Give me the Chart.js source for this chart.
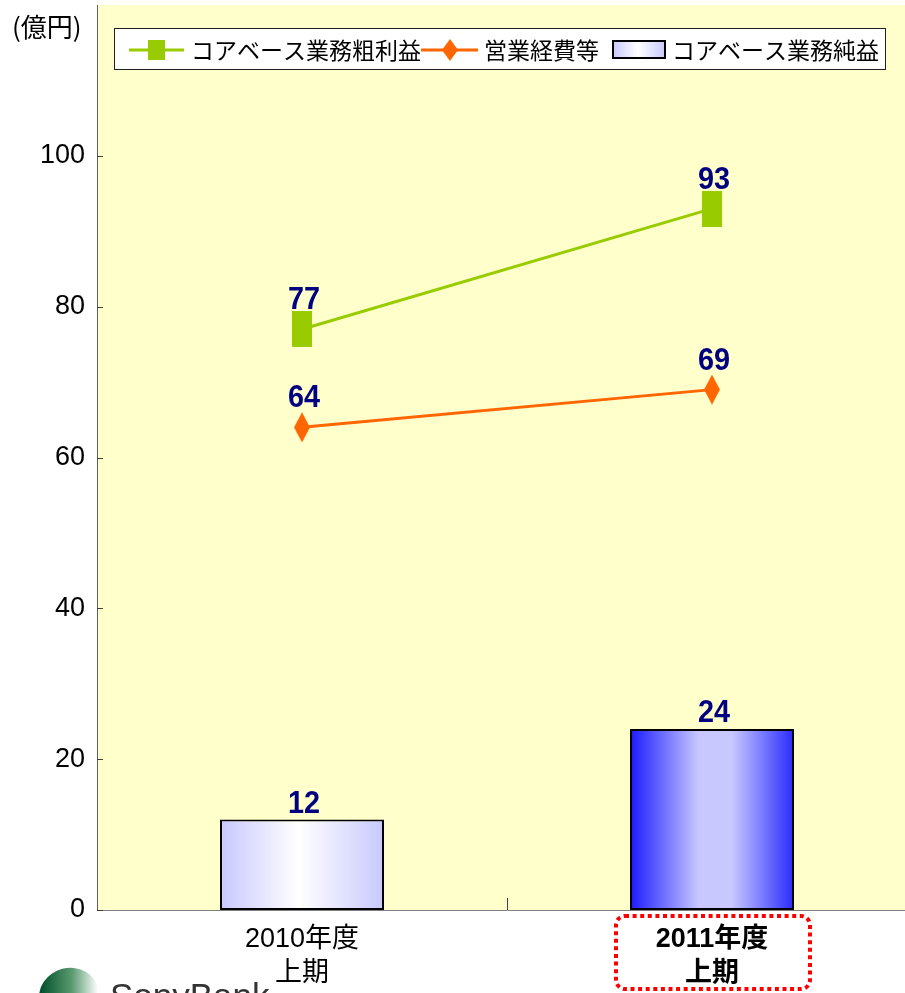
<!DOCTYPE html>
<html><head><meta charset="utf-8">
<script src="https://cdn.jsdelivr.net/npm/chart.js@4"></script>
<style>
html,body{margin:0;padding:0;background:#fff;overflow:hidden;width:905px;height:993px}
#wrap{position:relative;width:920px;height:993px}
canvas{display:block}
</style></head><body>
<div id="wrap"><canvas id="c" width="920" height="993" style="width:920px;height:993px"></canvas></div>
<script>
// ---- data ----
const categories = [['2010年度', '上期'], ['2011年度', '上期']];
const grossProfit = [77, 93];      // コアベース業務粗利益
const expenses = [64, 69];         // 営業経費等
const netProfit = [12, 24];        // コアベース業務純益
const yTicks = [0, 20, 40, 60, 80, 100];
const seriesNames = ['コアベース業務粗利益', '営業経費等', 'コアベース業務純益'];
const unitLabel = '(億円)';
const highlightIndex = 1;
const logoText = 'SonyBank';

// ---- styles ----
const GREEN = '#99cc00', ORANGE = '#ff6600', NAVY = '#000080';
const LATIN = '"Liberation Sans", Arial, "Noto Sans CJK JP", sans-serif';
const CJK = '"Noto Sans CJK JP", "Liberation Sans", sans-serif';

function makeRect(w, h, color) {
  const c = document.createElement('canvas'); c.width = w; c.height = h;
  const x = c.getContext('2d'); x.fillStyle = color; x.fillRect(0, 0, w, h); return c;
}
function makeDiamond(w, h, color) {
  const c = document.createElement('canvas'); c.width = w; c.height = h;
  const x = c.getContext('2d'); x.fillStyle = color;
  x.beginPath(); x.moveTo(w / 2, 0); x.lineTo(w, h / 2); x.lineTo(w / 2, h); x.lineTo(0, h / 2); x.closePath(); x.fill();
  return c;
}
const greenMarker = makeRect(20, 36, GREEN);
const orangeMarker = makeDiamond(16, 30, ORANGE);

function barGradient(ctx, x0, x1, idx) {
  const g = ctx.createLinearGradient(x0, 0, x1, 0);
  if (idx === 0) {
    g.addColorStop(0, '#c8c8ff'); g.addColorStop(0.48, '#ffffff'); g.addColorStop(1, '#c8c8ff');
  } else {
    g.addColorStop(0, '#1a1aff'); g.addColorStop(0.42, '#c8c8ff'); g.addColorStop(0.62, '#c8c8ff'); g.addColorStop(1, '#2a2aff');
  }
  return g;
}

// stop the axes from reserving extra room around the plotting area for their end labels
function noEdgePadding(s) {
  s._calculatePadding = function () {
    this.paddingLeft = 0; this.paddingRight = 0; this.paddingTop = 0; this.paddingBottom = 0;
  };
}

const decor = {
  id: 'decor',
  beforeDraw(chart) {
    const { ctx, chartArea: a } = chart;
    ctx.save(); ctx.fillStyle = '#ffffcc';
    ctx.fillRect(a.left, a.top, a.right - a.left, a.bottom - a.top);
    ctx.restore();
  },
  afterDatasetsDraw(chart) {
    const { ctx, chartArea: a, scales } = chart;
    ctx.save();
    // inner tick marks
    ctx.strokeStyle = '#404040'; ctx.lineWidth = 1;
    yTicks.forEach(v => {
      const y = Math.round(scales.y.getPixelForValue(v)) + 0.5;
      ctx.beginPath(); ctx.moveTo(a.left, y); ctx.lineTo(a.left + 6, y); ctx.stroke();
    });
    for (let i = 0; i < categories.length - 1; i++) {
      const bx = Math.round((scales.x.getPixelForValue(i) + scales.x.getPixelForValue(i + 1)) / 2) + 0.5;
      ctx.beginPath(); ctx.moveTo(bx, a.bottom); ctx.lineTo(bx, a.bottom - 12); ctx.stroke();
    }
    // data labels
    ctx.fillStyle = NAVY; ctx.font = 'bold 31px ' + LATIN; ctx.textAlign = 'center'; ctx.textBaseline = 'alphabetic';
    chart.data.datasets.forEach((ds, di) => {
      const meta = chart.getDatasetMeta(di);
      meta.data.forEach((el, i) => {
        const off = ds.type === 'bar' ? 7 : 20;
        ctx.save(); ctx.translate(el.x + 2, el.y - off); ctx.scale(0.93, 1);
        ctx.fillText(String(ds.data[i]), 0, 0); ctx.restore();
      });
    });
    ctx.restore();
  },
  afterDraw(chart) {
    const { ctx, scales } = chart;
    ctx.save();
    // unit label
    ctx.fillStyle = '#000'; ctx.font = '26px ' + CJK; ctx.textAlign = 'left'; ctx.textBaseline = 'middle';
    ctx.fillText(unitLabel, 12, 27);
    // legend
    const L = 114, T = 28, R = 886, B = 70, cy = 50;
    ctx.fillStyle = '#fff'; ctx.fillRect(L, T, R - L, B - T);
    ctx.strokeStyle = '#202020'; ctx.lineWidth = 1; ctx.strokeRect(L + 0.5, T + 0.5, R - L - 1, B - T - 1);
    ctx.lineWidth = 3;
    ctx.strokeStyle = GREEN; ctx.beginPath(); ctx.moveTo(129, cy); ctx.lineTo(184, cy); ctx.stroke();
    ctx.fillStyle = GREEN; ctx.fillRect(148, cy - 10, 17, 20);
    ctx.strokeStyle = ORANGE; ctx.beginPath(); ctx.moveTo(421, cy); ctx.lineTo(478, cy); ctx.stroke();
    ctx.fillStyle = ORANGE; ctx.beginPath(); ctx.moveTo(450, cy - 11); ctx.lineTo(458, cy); ctx.lineTo(450, cy + 11); ctx.lineTo(442, cy); ctx.closePath(); ctx.fill();
    ctx.fillStyle = barGradient(ctx, 613, 665, 0); ctx.fillRect(613, 41, 52, 17);
    ctx.strokeStyle = '#000'; ctx.lineWidth = 2; ctx.strokeRect(613, 41, 52, 17);
    ctx.fillStyle = '#000'; ctx.font = '23px ' + CJK; ctx.textBaseline = 'middle';
    ctx.fillText(seriesNames[0], 191, cy);
    ctx.fillText(seriesNames[1], 484, cy);
    ctx.fillText(seriesNames[2], 672, cy);
    // highlight box around the second category label
    const hx = scales.x.getPixelForValue(highlightIndex);
    const bx0 = hx - 96, bx1 = hx + 98, by0 = 916, by1 = 989, r = 9;
    ctx.strokeStyle = '#ff0000'; ctx.lineWidth = 4; ctx.setLineDash([4, 3.6]);
    ctx.beginPath();
    ctx.moveTo(bx0 + r, by0); ctx.lineTo(bx1 - r, by0); ctx.arcTo(bx1, by0, bx1, by0 + r, r);
    ctx.lineTo(bx1, by1 - r); ctx.arcTo(bx1, by1, bx1 - r, by1, r);
    ctx.lineTo(bx0 + r, by1); ctx.arcTo(bx0, by1, bx0, by1 - r, r);
    ctx.lineTo(bx0, by0 + r); ctx.arcTo(bx0, by0, bx0 + r, by0, r);
    ctx.closePath(); ctx.stroke(); ctx.setLineDash([]);
    // logo
    const lg = ctx.createLinearGradient(40, 0, 98, 0);
    lg.addColorStop(0, '#00502a'); lg.addColorStop(0.55, '#5a9a70'); lg.addColorStop(1, '#ffffff');
    ctx.fillStyle = lg; ctx.beginPath(); ctx.ellipse(69, 995, 30, 27, -0.25, 0, Math.PI * 2); ctx.fill();
    ctx.fillStyle = '#333'; ctx.font = '35px ' + LATIN; ctx.textAlign = 'left'; ctx.textBaseline = 'alphabetic';
    ctx.fillText(logoText, 110, 1008);
    ctx.restore();
  }
};

new Chart(document.getElementById('c'), {
  data: {
    labels: categories,
    datasets: [
      { type: 'line', label: seriesNames[0], data: grossProfit, borderColor: GREEN, borderWidth: 3,
        pointStyle: greenMarker, pointRadius: 10, order: 1, tension: 0 },
      { type: 'line', label: seriesNames[1], data: expenses, borderColor: ORANGE, borderWidth: 3,
        pointStyle: orangeMarker, pointRadius: 10, order: 2, tension: 0 },
      { type: 'bar', label: seriesNames[2], data: netProfit, order: 3,
        borderColor: '#000', borderWidth: 2, borderSkipped: false,
        barPercentage: 0.4, categoryPercentage: 1,
        backgroundColor: (c) => {
          const ch = c.chart, xs = ch.scales.x;
          if (!xs || !ch.chartArea) return '#ccccff';
          const cx = xs.getPixelForValue(c.dataIndex);
          const w = (xs.getPixelForValue(1) - xs.getPixelForValue(0)) * 0.4;
          return barGradient(ch.ctx, cx - w / 2, cx + w / 2, c.dataIndex);
        } }
    ]
  },
  options: {
    responsive: false, animation: false, devicePixelRatio: 1,
    layout: { autoPadding: false, padding: { left: 0, top: 5, right: 3, bottom: 0 } },
    plugins: { legend: { display: false }, tooltip: { enabled: false } },
    scales: {
      x: {
        offset: true,
        grid: { display: false, drawTicks: false },
        border: { display: true, color: '#808080', width: 1 },
        ticks: {
          color: '#000', padding: 13,
          font: (c) => ({ family: LATIN, size: 27, lineHeight: 1.26, weight: c.index === highlightIndex ? 'bold' : 'normal' }),
          maxRotation: 0, autoSkip: false
        },
        beforeFit: noEdgePadding,
        afterFit: (s) => { s.height = 83; }
      },
      y: {
        min: 0, max: 120,
        grid: { display: false, drawTicks: false },
        border: { display: true, color: '#606060', width: 1 },
        afterBuildTicks: (s) => { s.ticks = yTicks.map(v => ({ value: v })); },
        ticks: {
          color: '#000', padding: 12,
          font: { family: LATIN, size: 27 }
        },
        beforeFit: noEdgePadding,
        afterFit: (s) => { s.width = 97; }
      }
    }
  },
  plugins: [decor]
});
</script>
</body></html>
